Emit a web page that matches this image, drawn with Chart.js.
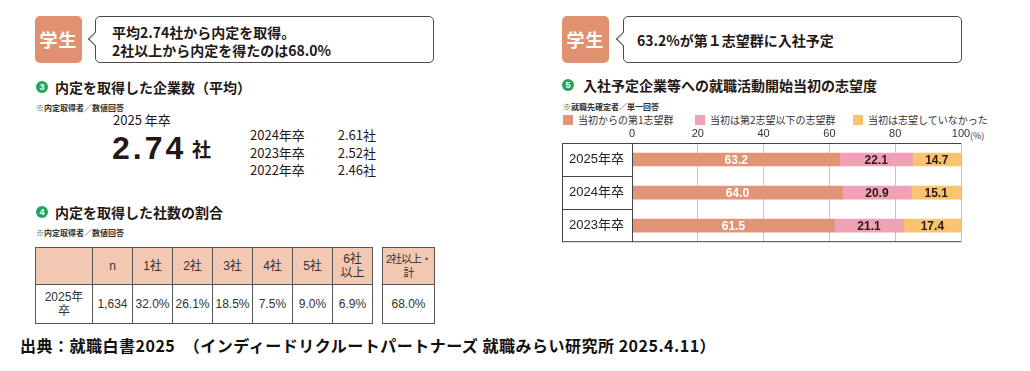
<!DOCTYPE html>
<html lang="ja">
<head>
<meta charset="utf-8">
<script src="https://cdn.jsdelivr.net/npm/chart.js@4.4.1/dist/chart.umd.min.js"></script>
<style>
  body { margin: 0; width: 1030px; height: 371px; background: #fff; position: relative; overflow: hidden;
         font-family: "Noto Sans CJK JP", "Noto Sans", sans-serif; color: #231815; }
  .abs { position: absolute; white-space: nowrap; }
  .badge { position: absolute; width: 47px; height: 47px; background: #E09170; border-radius: 5px;
           color: #fff; font-size: 18px; font-weight: bold; line-height: 47px; text-align: center; letter-spacing: 1px; }
  .bubble { position: absolute; height: 45px; border: 1px solid #4a4a4a; border-radius: 5px; background: #fff; }
  .bubble::before { content: ""; position: absolute; left: -6px; top: 17px; width: 9px; height: 9px; background: #fff;
                    border-left: 1px solid #4a4a4a; border-bottom: 1px solid #4a4a4a; transform: rotate(45deg); }
  .btxt { font-size: 14px; font-weight: bold; line-height: 18px; }
  .num { position: absolute; width: 12px; height: 12px; border-radius: 50%; background: #22A45D; color: #fff;
         font-size: 9px; line-height: 12px; text-align: center; font-family: "Liberation Sans", sans-serif; font-weight: bold; }
  .head { font-size: 14px; font-weight: bold; line-height: 18px; }
  .note { font-size: 8px; line-height: 10px; font-weight: bold; color: #333; }
  table { border-collapse: collapse; position: absolute; font-size: 12px; color: #333; table-layout: fixed;
          font-family: "Liberation Sans", "Noto Sans CJK JP", sans-serif; }
  td { border: 1px solid #555; text-align: center; padding: 0; line-height: 14px; white-space: nowrap; overflow: hidden; }
  tr.h td { background: #F2C8B2; height: 36px; }
  tr.b td { height: 38px; }
  .leg { font-size: 10px; line-height: 12px; color: #333; }
  .sw { position: absolute; width: 10px; height: 10px; }
</style>
</head>
<body>
<div id="page"></div>
<canvas id="chart" width="440" height="124" style="position:absolute;left:552px;top:126px;"></canvas>
<script>
// ③ 内定を取得した企業数（平均）
const avgMainYear = '2025 年卒';
const avgMainValue = '2.74';
const avgYears = ['2024年卒', '2023年卒', '2022年卒'];
const avgValues = ['2.61', '2.52', '2.46'];

// ④ 内定を取得した社数の割合
const countHeads = ['', 'n', '1社', '2社', '3社', '4社', '5社', '6社<br>以上'];
const countRow = ['2025年<br>卒', '1,634', '32.0%', '26.1%', '18.5%', '7.5%', '9.0%', '6.9%'];
const countTotal = ['2社以上・<br>計', '68.0%'];

// ⑤ 入社予定企業等への就職活動開始当初の志望度
const years = ['2025年卒', '2024年卒', '2023年卒'];
const seriesNames = ['当初からの第1志望群', '当初は第2志望以下の志望群', '当初は志望していなかった'];
const firstChoice = [63.2, 64.0, 61.5];
const secondChoice = [22.1, 20.9, 21.1];
const notWanted = [14.7, 15.1, 17.4];
const xTicks = [0, 20, 40, 60, 80, 100];

const colors = ['#E29576', '#F0A1B6', '#FAC46E'];

const page = document.getElementById('page');
let html = '';

// left block
html += '<div class="badge" style="left:35px;top:16px;">学生</div>';
html += '<div class="bubble" style="left:95px;top:16px;width:337px;"></div>';
html += '<div class="abs btxt" style="left:112px;top:23px;">平均2.74社から内定を取得。</div>';
html += '<div class="abs btxt" style="left:112px;top:41px;">2社以上から内定を得たのは68.0%</div>';

html += '<div class="num" style="left:36px;top:81px;">3</div>';
html += '<div class="abs head" style="left:55px;top:78px;">内定を取得した企業数（平均）</div>';
html += '<div class="abs note" style="left:36px;top:103px;">※内定取得者／数値回答</div>';

html += '<div class="abs" style="left:113px;top:111px;font-size:13px;line-height:18px;">' + avgMainYear + '</div>';
html += '<div class="abs" style="left:112px;top:136px;font-family:\'Liberation Sans\',sans-serif;font-weight:bold;font-size:32px;line-height:24px;letter-spacing:3px;">' + avgMainValue + '</div>';
html += '<div class="abs" style="left:192px;top:137px;font-size:19px;font-weight:bold;line-height:24px;">社</div>';
avgYears.forEach((y, i) => {
  const top = 126 + i * 17.5;
  html += '<div class="abs" style="left:250px;top:' + top + 'px;font-size:13px;line-height:18px;">' + y + '</div>';
  html += '<div class="abs" style="left:330px;width:46px;text-align:right;top:' + top + 'px;font-size:13px;line-height:18px;">' + avgValues[i] + '社</div>';
});

html += '<div class="num" style="left:36px;top:206px;">4</div>';
html += '<div class="abs head" style="left:55px;top:203px;">内定を取得した社数の割合</div>';
html += '<div class="abs note" style="left:36px;top:228px;">※内定取得者／数値回答</div>';

const colW = [57, 40, 40, 40, 40, 40, 40, 40];
let t = '<table style="left:35px;top:247px;width:338px;"><colgroup>';
colW.forEach((w) => { t += '<col style="width:' + w + 'px">'; });
t += '</colgroup><tr class="h">';
countHeads.forEach((h) => { t += '<td>' + h + '</td>'; });
t += '</tr><tr class="b">';
countRow.forEach((v) => { t += '<td>' + v + '</td>'; });
t += '</tr></table>';
t += '<table style="left:382px;top:247px;width:53px;"><tr class="h"><td style="font-size:11px;letter-spacing:-1px;">' + countTotal[0] + '</td></tr>';
t += '<tr class="b"><td>' + countTotal[1] + '</td></tr></table>';
html += t;

html += '<div class="abs" style="left:20px;top:335px;font-size:16px;font-weight:bold;line-height:20px;color:#111;letter-spacing:0.5px;">出典：就職白書2025　（インディードリクルートパートナーズ 就職みらい研究所 2025.4.11）</div>';

// right block
html += '<div class="badge" style="left:562px;top:16px;">学生</div>';
html += '<div class="bubble" style="left:623px;top:16px;width:337px;"></div>';
html += '<div class="abs btxt" style="left:637px;top:31px;">63.2%が第１志望群に入社予定</div>';
html += '<div class="num" style="left:562px;top:79px;">5</div>';
html += '<div class="abs head" style="left:583px;top:76px;">入社予定企業等への就職活動開始当初の志望度</div>';
html += '<div class="abs note" style="left:563px;top:102px;">※就職先確定者／単一回答</div>';
const legX = [563, 695, 853];
seriesNames.forEach((n, i) => {
  html += '<div class="sw" style="left:' + legX[i] + 'px;top:115px;background:' + colors[i] + ';"></div>';
  html += '<div class="abs leg" style="left:' + (legX[i] + 15) + 'px;top:114px;">' + n + '</div>';
});
html += '<div class="abs" style="left:970px;top:130px;font-size:9px;line-height:12px;color:#333;">(%)</div>';
page.innerHTML = html;

// frame around the category column + labels on bars
const framePlugin = {
  id: 'frame',
  afterDraw(chart) {
    const { ctx, chartArea: a } = chart;
    const y = chart.scales.y;
    const left = 10;
    ctx.save();
    ctx.strokeStyle = '#444';
    ctx.lineWidth = 1;
    ctx.beginPath();
    ctx.moveTo(left, a.top + 0.5); ctx.lineTo(a.right, a.top + 0.5);
    ctx.moveTo(left, a.bottom - 0.5); ctx.lineTo(a.right, a.bottom - 0.5);
    ctx.moveTo(left + 0.5, a.top); ctx.lineTo(left + 0.5, a.bottom);
    ctx.moveTo(a.left + 0.5, a.top); ctx.lineTo(a.left + 0.5, a.bottom);
    for (let i = 0; i < years.length - 1; i++) {
      const yy = Math.round((y.getPixelForValue(i) + y.getPixelForValue(i + 1)) / 2) + 0.5;
      ctx.moveTo(left, yy); ctx.lineTo(a.left, yy);
    }
    ctx.stroke();
    ctx.restore();
  },
  afterDatasetsDraw(chart) {
    const ctx = chart.ctx;
    ctx.save();
    ctx.font = 'bold 12px "Liberation Sans", Arial, sans-serif';
    ctx.textAlign = 'center';
    ctx.textBaseline = 'middle';
    chart.data.datasets.forEach((ds, di) => {
      chart.getDatasetMeta(di).data.forEach((el, i) => {
        ctx.fillStyle = di === 0 ? '#fff' : '#2a1a1a';
        ctx.fillText(ds.data[i].toFixed(1), (el.x + el.base) / 2, el.y + 1);
      });
    });
    ctx.restore();
  }
};

new Chart(document.getElementById('chart'), {
  type: 'bar',
  data: {
    labels: years,
    datasets: [
      { label: seriesNames[0], data: firstChoice, backgroundColor: colors[0] },
      { label: seriesNames[1], data: secondChoice, backgroundColor: colors[1] },
      { label: seriesNames[2], data: notWanted, backgroundColor: colors[2] },
    ],
  },
  options: {
    indexAxis: 'y',
    responsive: false,
    animation: false,
    barThickness: 13,
    layout: { padding: { left: 10, right: 31, top: 0, bottom: 7 } },
    plugins: { legend: { display: false }, tooltip: { enabled: false } },
    scales: {
      x: {
        position: 'top',
        stacked: true,
        min: 0,
        max: 100,
        afterBuildTicks: (s) => { s.ticks = xTicks.map((v) => ({ value: v })); },
        afterFit: (s) => { s.height = 17; },
        ticks: { font: { size: 11, family: '"Liberation Sans", Arial, sans-serif' }, color: '#333', padding: 2 },
        grid: { drawTicks: false, color: (c) => (c.tick && c.tick.value === 0 ? 'rgba(0,0,0,0)' : '#c4c4c4') },
        border: { display: false },
      },
      y: {
        stacked: true,
        afterFit: (s) => { s.width = 70; },
        ticks: { crossAlign: 'center', padding: 0, font: { size: 13, family: '"Liberation Sans", "Noto Sans CJK JP", sans-serif' }, color: '#222' },
        grid: { display: false },
        border: { display: false },
      },
    },
  },
  plugins: [framePlugin],
});
</script>
</body>
</html>
